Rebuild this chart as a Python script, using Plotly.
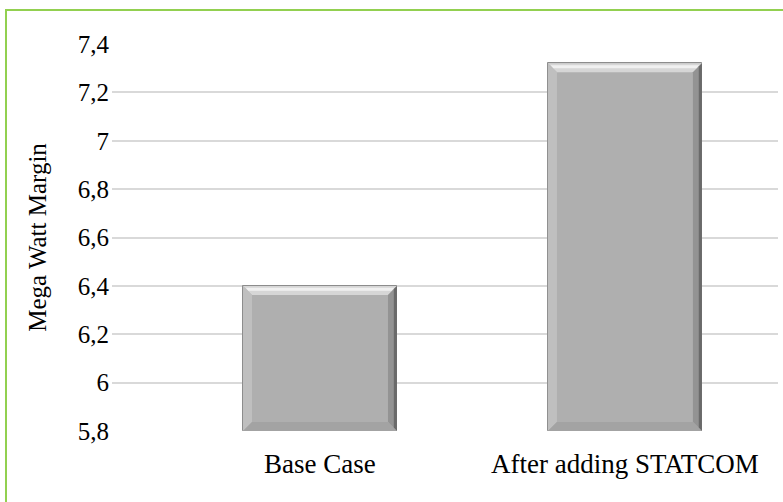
import plotly.graph_objects as go

categories = ["Base Case", "After adding STATCOM"]
values = [6.40, 7.32]
tick_vals = [5.8, 6.0, 6.2, 6.4, 6.6, 6.8, 7.0, 7.2, 7.4]
tick_text = ["5,8", "6", "6,2", "6,4", "6,6", "6,8", "7", "7,2", "7,4"]
y_title = "Mega Watt Margin"

W, H = 783, 502
ML, MR, MT, MB = 112, 5, 44, 71
Y0, Y1 = 5.8, 7.4
X0, X1 = -0.682, 1.502
BAR_W = 0.505
FONT = "Liberation Serif"
FS = 25

fig = go.Figure()
fig.add_trace(go.Bar(
    x=list(range(len(categories))), y=[v - Y0 for v in values], base=Y0,
    width=BAR_W,
    marker=dict(color="#afafaf", line=dict(color="#8c8c8c", width=1)),
    showlegend=False, hoverinfo="skip",
))

# bevel decoration computed from data values
plot_w = W - ML - MR
plot_h = H - MT - MB
px_x = (X1 - X0) / plot_w
px_y = (Y1 - Y0) / plot_h
bev = 9
bx, by = bev * px_x, bev * px_y
shapes = []
for i, v in enumerate(values):
    l, r = i - BAR_W / 2, i + BAR_W / 2
    t, b = v, Y0
    shapes.append(dict(type="path", xref="x", yref="y",
                       path=f"M {l},{t} L {r},{t} L {r-bx},{t-by} L {l+bx},{t-by} Z",
                       fillcolor="#d6d6d6", line=dict(width=0), layer="above"))
    shapes.append(dict(type="path", xref="x", yref="y",
                       path=f"M {l+bx*0.3},{t-by*0.2} L {r-bx*0.3},{t-by*0.2} L {r-bx*0.6},{t-by*0.55} L {l+bx*0.6},{t-by*0.55} Z",
                       fillcolor="#f0f0f0", line=dict(width=0), layer="above"))
    shapes.append(dict(type="path", xref="x", yref="y",
                       path=f"M {l},{t} L {l+bx},{t-by} L {l+bx},{b+by} L {l},{b} Z",
                       fillcolor="#bfbfbf", line=dict(width=0), layer="above"))
    shapes.append(dict(type="path", xref="x", yref="y",
                       path=f"M {r},{t} L {r-bx},{t-by} L {r-bx},{b+by} L {r},{b} Z",
                       fillcolor="#939393", line=dict(width=0), layer="above"))
    shapes.append(dict(type="path", xref="x", yref="y",
                       path=f"M {r},{t} L {r-bx*0.35},{t-by*0.35} L {r-bx*0.35},{b+by*0.35} L {r},{b} Z",
                       fillcolor="#6a6a6a", line=dict(width=0), layer="above"))
    shapes.append(dict(type="path", xref="x", yref="y",
                       path=f"M {l},{b} L {l+bx},{b+by} L {r-bx},{b+by} L {r},{b} Z",
                       fillcolor="#a3a3a3", line=dict(width=0), layer="above"))

# green chart border
shapes.append(dict(type="rect", xref="paper", yref="paper",
                   x0=(6 - ML) / plot_w, x1=(W + 20 - ML) / plot_w,
                   y0=-(MB + 20) / plot_h, y1=1 + (MT - 10) / plot_h,
                   line=dict(color="#92d050", width=2), fillcolor="rgba(0,0,0,0)", layer="below"))

fig.update_layout(
    width=W, height=H,
    margin=dict(l=ML, r=MR, t=MT, b=MB),
    paper_bgcolor="white", plot_bgcolor="white",
    font=dict(family=FONT, size=FS, color="black"),
    shapes=shapes,
    bargap=0,
)
fig.update_xaxes(
    range=[X0, X1], tickmode="array", tickvals=list(range(len(categories))),
    ticktext=categories, showgrid=False, zeroline=False, showline=False,
    ticks="", tickfont=dict(size=27, family=FONT), ticklabelstandoff=14,
)
fig.update_yaxes(
    range=[Y0, Y1], tickmode="array", tickvals=tick_vals, ticktext=tick_text,
    showgrid=True, gridcolor="#d9d9d9", gridwidth=1.5, zeroline=False, showline=False,
    ticks="", tickfont=dict(size=FS, family=FONT), ticklabelstandoff=2,
    title=dict(text=y_title, font=dict(size=FS, family=FONT), standoff=24),
)

fig.write_html("out.html", config={"displayModeBar": False},
               post_script="document.body.style.margin='0';")
